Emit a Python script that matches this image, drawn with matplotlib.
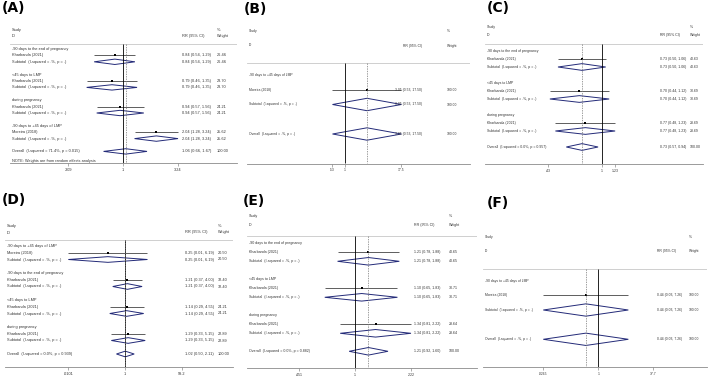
import numpy as np
import matplotlib.pyplot as plt
from matplotlib.patches import Polygon
import matplotlib.transforms as mtransforms
from matplotlib.ticker import NullLocator

plt.rcParams['font.family'] = ['Liberation Sans', 'DejaVu Sans']

W, H = 709, 381
SUB = "Subtotal  (I-squared = .%, p = .)"

# ---- (A) ----
a_groups = ["-90 days to the end of pregnancy", "<45 days to LMP", "during pregnancy", "-90 days to +45 days of LMP"]
a_studies = ["Kharbanda (2021)", "Kharbanda (2021)", "Kharbanda (2021)", "Moreira (2018)"]
a_rr = [0.84, 0.79, 0.94, 2.04]
a_lo = [0.54, 0.46, 0.57, 1.28]
a_hi = [1.29, 1.35, 1.56, 3.24]
a_w = [26.46, 23.70, 24.21, 25.62]
a_overall = [1.06, 0.66, 1.67]
a_overall_label = "Overall  (I-squared = 71.4%, p = 0.015)"
a_ticks = [0.309, 1, 3.24]
a_ticklabels = [".309", "1", "3.24"]

# ---- (B) ----
b_groups = ["-90 days to +45 days of LMP"]
b_studies = ["Moreira (2018)"]
b_rr = [3.05]
b_lo = [0.53]
b_hi = [17.5]
b_w = [100.00]
b_overall = [3.05, 0.53, 17.5]
b_overall_label = "Overall  (I-squared = .%, p = .)"
b_ticks = [0.53, 1, 17.5]
b_ticklabels = [".53", "1", "17.5"]

# ---- (C) ----
c_groups = ["-90 days to the end of pregnancy", "<45 days to LMP", "during pregnancy"]
c_studies = ["Kharbanda (2021)", "Kharbanda (2021)", "Kharbanda (2021)"]
c_rr = [0.73, 0.70, 0.77]
c_lo = [0.50, 0.44, 0.48]
c_hi = [1.06, 1.12, 1.23]
c_w = [40.63, 30.69, 28.69]
c_overall = [0.73, 0.57, 0.94]
c_overall_label = "Overall  (I-squared = 0.0%, p = 0.957)"
c_ticks = [0.43, 1, 1.23]
c_ticklabels = [".43", "1", "1.23"]

# ---- (D) ----
d_groups = ["-90 days to +45 days of LMP", "-90 days to the end of pregnancy", "<45 days to LMP", "during pregnancy"]
d_studies = ["Moreira (2018)", "Kharbanda (2021)", "Kharbanda (2021)", "Kharbanda (2021)"]
d_rr = [0.25, 1.21, 1.14, 1.29]
d_lo = [0.0101, 0.37, 0.29, 0.33]
d_hi = [6.19, 4.00, 4.55, 5.15]
d_w = [20.50, 32.40, 24.21, 22.89]
d_overall = [1.02, 0.50, 2.11]
d_overall_label = "Overall  (I-squared = 0.0%, p = 0.939)"
d_ticks = [0.0101, 1, 99.2]
d_ticklabels = [".0101", "1", "99.2"]

# ---- (E) ----
e_groups = ["-90 days to the end of pregnancy", "<45 days to LMP", "during pregnancy"]
e_studies = ["Kharbanda (2021)", "Kharbanda (2021)", "Kharbanda (2021)"]
e_rr = [1.21, 1.10, 1.34]
e_lo = [0.78, 0.65, 0.81]
e_hi = [1.88, 1.83, 2.22]
e_w = [40.65, 30.71, 28.64]
e_overall = [1.21, 0.92, 1.60]
e_overall_label = "Overall  (I-squared = 0.0%, p = 0.882)"
e_ticks = [0.451, 1, 2.22]
e_ticklabels = [".451", "1", "2.22"]

# ---- (F) ----
f_groups = ["-90 days to +45 days of LMP"]
f_studies = ["Moreira (2018)"]
f_rr = [0.44]
f_lo = [0.0265]
f_hi = [7.26]
f_w = [100.00]
f_overall = [0.44, 0.0265, 7.26]
f_overall_label = "Overall  (I-squared = .%, p = .)"
f_ticks = [0.0265, 1, 37.7]
f_ticklabels = [".0265", "1", "37.7"]

NAVY = "#232a78"
TXT = "#333333"

fig = plt.figure(figsize=(W / 100, H / 100), dpi=100)


def est_text(e, l, h):
    return "%.2f (%.2f, %.2f)" % (e, l, h)


def draw_panel(groups, studies, rr, lo, hi, w, ov, ov_label, ticks, ticklabels, lay, note=None):
    # lay: pixel layout of the panel
    x0, x1, y0, unit, bottom_r = lay["x0"], lay["x1"], lay["y0"], lay["unit"], lay["bottom"]
    p1, s, fs = lay["p1"], lay["s"], lay["fs"]
    top_r = -3.6
    sep_r = -0.82
    ytop = y0 + top_r * unit
    ybot = y0 + bottom_r * unit
    ax = fig.add_axes([x0 / W, 1 - ybot / H, (x1 - x0) / W, (ybot - ytop) / H])
    ax.set_xscale("log")
    ax.set_xlim(np.exp((x0 - p1) / s), np.exp((x1 - p1) / s))
    ax.set_ylim(bottom_r, top_r)
    ax.patch.set_alpha(0)
    tr = mtransforms.blended_transform_factory(ax.transAxes, ax.transData)

    def fx(px):
        return (px - x0) / (x1 - x0)

    lx = fx(x0 + 2)
    ex, eha = fx(lay["est_x"]), lay["est_ha"]
    wx = fx(lay["w_x"])
    kw = dict(transform=tr, fontsize=fs, color=TXT, va="center")

    # header
    ax.text(lx, -3, "Study", **kw)
    ax.text(lx, -2, "ID", **kw)
    ax.text(ex, -2, "RR (95% CI)", ha=eha, **kw)
    ax.text(wx, -3, "%", **kw)
    ax.text(wx, -2, "Weight", **kw)
    ax.axhline(sep_r, color="#c8c8c8", lw=0.6)

    h = 0.42
    for g in range(len(groups)):
        r = 4 * g
        ax.text(lx, r, groups[g], **kw)
        ax.text(lx, r + 1, studies[g], **kw)
        ax.text(lx, r + 2, SUB, **kw)
        ax.hlines(r + 1, lo[g], hi[g], color="#444444", lw=0.6)
        ax.plot(rr[g], r + 1, marker="s", ms=1.8, color="black", mew=0)
        ax.add_patch(Polygon([(lo[g], r + 2), (rr[g], r + 2 - h), (hi[g], r + 2), (rr[g], r + 2 + h)],
                             closed=True, fill=False, ec=NAVY, lw=0.7))
        for k in (1, 2):
            ax.text(ex, r + k, est_text(rr[g], lo[g], hi[g]), ha=eha, **kw)
            ax.text(wx, r + k, "%.2f" % w[g], **kw)

    ro = 4 * len(groups)
    ax.text(lx, ro, ov_label, **kw)
    ax.add_patch(Polygon([(ov[1], ro), (ov[0], ro - h), (ov[2], ro), (ov[0], ro + h)],
                         closed=True, fill=False, ec=NAVY, lw=0.7))
    ax.text(ex, ro, est_text(*ov), ha=eha, **kw)
    ax.text(wx, ro, "100.00", **kw)
    if note:
        ax.text(lx, ro + 1.5, note, **kw)

    ax.vlines(1, sep_r, bottom_r, color="black", lw=0.6)
    ax.vlines(ov[0], sep_r, bottom_r, color="#777777", lw=0.5, linestyles=(0, (2, 1.5)))

    for sp in ("top", "left", "right"):
        ax.spines[sp].set_visible(False)
    ax.spines["bottom"].set_color("#8a8a8a")
    ax.spines["bottom"].set_linewidth(0.6)
    ax.set_yticks([])
    ax.xaxis.set_minor_locator(NullLocator())
    ax.set_xticks(ticks)
    ax.set_xticklabels(ticklabels)
    ax.tick_params(axis="x", length=2, width=0.5, color="#8a8a8a", labelsize=fs, labelcolor=TXT, pad=1.5)
    return ax


draw_panel(a_groups, a_studies, a_rr, a_lo, a_hi, a_w, a_overall, a_overall_label, a_ticks, a_ticklabels,
           dict(x0=10, x1=237, y0=49, unit=6.4, bottom=17.85, p1=123, s=46.8, fs=2.8,
                est_x=181.7, est_ha="left", w_x=216.5),
           note="NOTE: Weights are from random effects analysis")
draw_panel(b_groups, b_studies, b_rr, b_lo, b_hi, b_w, b_overall, b_overall_label, b_ticks, b_ticklabels,
           dict(x0=247, x1=470, y0=75, unit=14.75, bottom=6.0, p1=345, s=19.7, fs=2.4,
                est_x=422, est_ha="right", w_x=447))
draw_panel(c_groups, c_studies, c_rr, c_lo, c_hi, c_w, c_overall, c_overall_label, c_ticks, c_ticklabels,
           dict(x0=485, x1=703, y0=51, unit=8.0, bottom=14.1, p1=602, s=63.5, fs=2.5,
                est_x=660, est_ha="left", w_x=689.5))
draw_panel(d_groups, d_studies, d_rr, d_lo, d_hi, d_w, d_overall, d_overall_label, d_ticks, d_ticklabels,
           dict(x0=5, x1=233, y0=246, unit=6.75, bottom=17.97, p1=125, s=12.33, fs=2.8,
                est_x=185, est_ha="left", w_x=218))
draw_panel(e_groups, e_studies, e_rr, e_lo, e_hi, e_w, e_overall, e_overall_label, e_ticks, e_ticklabels,
           dict(x0=247, x1=477, y0=243.3, unit=9.0, bottom=13.82, p1=355, s=70.2, fs=2.65,
                est_x=414, est_ha="left", w_x=449))
draw_panel(f_groups, f_studies, f_rr, f_lo, f_hi, f_w, f_overall, f_overall_label, f_ticks, f_ticklabels,
           dict(x0=483, x1=707, y0=280.7, unit=14.65, bottom=5.91, p1=598.3, s=15.15, fs=2.4,
                est_x=657, est_ha="left", w_x=689))

# panel letters
for lbl, px, py in [("(A)", 2, 8), ("(B)", 244, 9), ("(C)", 487, 8),
                    ("(D)", 2, 200), ("(E)", 243, 201), ("(F)", 487, 203)]:
    fig.text(px / W, 1 - py / H, lbl, fontsize=10, fontweight="bold", va="center", ha="left",
             family="DejaVu Sans")

fig.savefig("out.png", dpi=100)
